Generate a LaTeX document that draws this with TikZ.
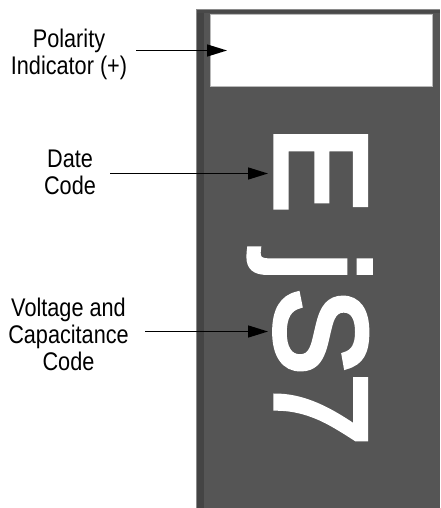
\documentclass[tikz,border=0pt]{standalone}
\usepackage{fontspec}
\setmainfont{Liberation Sans}
\newfontfamily\labelfont[FakeStretch=0.85]{Liberation Sans}
\newfontfamily\markfont[FakeBold=4]{Liberation Sans}
\usetikzlibrary{arrows.meta}
\definecolor{bodygrey}{HTML}{555555}
\definecolor{stripgrey}{HTML}{444444}
\definecolor{edgegrey}{HTML}{8A8A8A}
\tikzset{
  callout/.style={align=center,inner sep=0pt,font=\labelfont\fontsize{25.5}{26.8}\selectfont,text=black},
  pointer/.style={line width=1.5pt,-{Triangle[length=20pt,width=12pt]},black},
  marking/.style={rotate=-90,anchor=base west,inner sep=0pt,text=white,font=\markfont\fontsize{130}{130}\selectfont}
}
\begin{document}
\begin{tikzpicture}[x=1pt,y=-1pt]
\useasboundingbox (0,0) rectangle (440,508);
% capacitor body
\fill[bodygrey] (196,9) rectangle (440,508);
\fill[stripgrey] (196,9) rectangle (204,508);
\fill[stripgrey!70!bodygrey] (196,9) rectangle (440,13);
\draw[edgegrey,line width=0.8pt] (196,508) -- (196,9) -- (440,9);
\node[draw=edgegrey!60!white,line width=0.8pt,fill=white,minimum width=222pt,minimum height=72pt,inner sep=0pt,anchor=north west] (box) at (210,14) {};
\node[marking] (code) at (276,125.8) {E \kern3.5pt j\kern7pt S\kern-2pt 7};
% labels
\node[callout,anchor=center] (polarity) at (69,54.5) {Polarity\\Indicator (+)};
\node[callout,anchor=center] (date) at (70,172) {Date\\Code};
\node[callout,anchor=center] (voltage) at (68.5,334.5) {Voltage and\\Capacitance\\Code};
% connector ends
\coordinate (polStart) at (136,50.5);
\coordinate (polTip) at (227,50.5);
\coordinate (dateStart) at (110,173.5);
\coordinate (dateTip) at (268,173.5);
\coordinate (voltStart) at (145,331.5);
\coordinate (voltTip) at (268,331.5);
\draw[pointer] (polStart) -- (polTip);
\draw[pointer] (dateStart) -- (dateTip);
\draw[pointer] (voltStart) -- (voltTip);
\end{tikzpicture}
\end{document}
